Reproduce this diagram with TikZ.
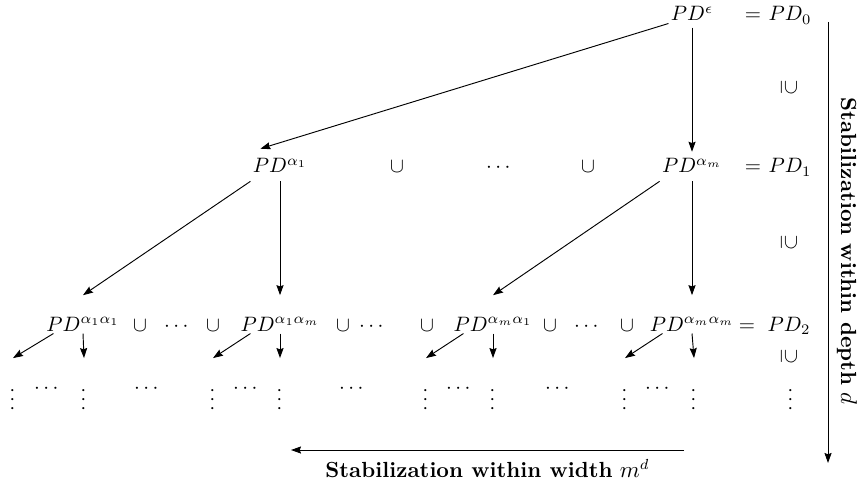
\documentclass[tikz,border=0pt]{standalone}
\usepackage{amsmath}
\usepackage{amssymb}
\usepackage{graphicx}
\usetikzlibrary{arrows.meta}

% upright row of dots, one piece
\newcommand{\vdt}{\rotatebox{90}{$\cdots$}}

\tikzset{
  pd/.style={inner sep=1pt, anchor=base},
  lvlone/.style={pd, text height=9pt, text depth=2.8pt},
  lvltwo/.style={pd, text height=16pt, text depth=0pt},
  arr/.style={-{Stealth[length=4.8pt, width=3.4pt, inset=0.6pt]}, line width=0.45pt},
  subset/.style={rotate=-90, inner sep=0pt},
  vdot/.style={inner sep=0pt, outer ysep=12.5pt},
  hdot/.style={inner sep=0pt, anchor=base},
  caption/.style={font=\fontsize{10.5pt}{12pt}\selectfont},
}

\begin{document}
\begin{tikzpicture}[x=0.48pt, y=-0.48pt]
    \useasboundingbox (0,0) rectangle (860,483);

    % Level 0
    \node[pd] (eps) at (692,21) {$PD^{\epsilon}$};
    \node[pd] (eq0) at (753,21) {$=$};
    \node[pd] (pd0) at (790,21) {$PD_0$};

    % Level 1
    \node[lvlone] (a1) at (280,173) {$PD^{\alpha_1}$};
    \node[pd] (cup1a) at (397,173) {$\cup$};
    \node[pd] (dots1) at (500,173) {$\cdots$};
    \node[pd] (cup1b) at (588,173) {$\cup$};
    \node[lvlone] (am) at (692,173) {$PD^{\alpha_m}$};
    \node[pd] (eq1) at (753,173) {$=$};
    \node[pd] (pd1) at (790,173) {$PD_1$};

    % Level 2
    \node[lvltwo] (a1a1) at (83,331) {$PD^{\alpha_1\alpha_1}$};
    \node[pd] (cup2a) at (140,331) {$\cup$};
    \node[pd] (dots2a) at (178,331) {$\cdots$};
    \node[pd] (cup2b) at (213,331) {$\cup$};
    \node[lvltwo] (a1am) at (280,331) {$PD^{\alpha_1\alpha_m}$};
    \node[pd] (cup2c) at (343,331) {$\cup$};
    \node[pd] (dots2b) at (373,331) {$\cdots$};
    \node[pd] (cup2d) at (427,331) {$\cup$};
    \node[lvltwo] (ama1) at (493,331) {$PD^{\alpha_m\alpha_1}$};
    \node[pd] (cup2e) at (550,331) {$\cup$};
    \node[pd] (dots2c) at (588,331) {$\cdots$};
    \node[pd] (cup2f) at (627,331) {$\cup$};
    \node[lvltwo] (amam) at (692,331) {$PD^{\alpha_m\alpha_m}$};
    \node[pd] (eq2) at (747,331) {$=$};
    \node[pd] (pd2) at (789,331) {$PD_2$};

    % Inclusions between the levels
    \node[subset] (inc0) at (789,88) {$\supseteq$};
    \node[subset] (inc1) at (789,243) {$\supseteq$};
    \node[subset] (inc2) at (789,357) {$\supseteq$};

    % Level 3, only dots
    \foreach \name/\x in {v1/13, v2/84, v3/213, v4/280, v5/426, v6/493, v7/625, v8/694, v9/791}
        \node[vdot] (\name) at (\x,398) {\vdt};
    \foreach \name/\x in {h1/48, h2/148, h3/247, h4/353, h5/460, h6/559, h7/659}
        \node[hdot] (\name) at (\x,393) {$\cdots$};

    % Level 0 to level 1
    \draw[arr, shorten >=5pt] (eps.south west) -- (a1.north west);
    \draw[arr, shorten <=2pt] (eps.south) -- (am.north);

    % Level 1 to level 2
    \draw[arr] (a1.south west) -- (a1a1.north);
    \draw[arr] (a1.south) -- (a1am.north);
    \draw[arr] (am.south west) -- (ama1.north);
    \draw[arr] (am.south) -- (amam.north);

    % Level 2 to level 3
    \draw[arr] (a1a1.213) -- (v1.north);
    \draw[arr] (a1a1.south) -- (v2.north);
    \draw[arr] (a1am.213) -- (v3.north);
    \draw[arr] (a1am.south) -- (v4.north);
    \draw[arr] (ama1.213) -- (v5.north);
    \draw[arr] (ama1.south) -- (v6.north);
    \draw[arr] (amam.213) -- (v7.north);
    \draw[arr] (amam.south) -- (v8.north);

    % Width arrow along the bottom
    \coordinate (wr) at (684,450);
    \coordinate (wl) at (291,450);
    \draw[arr] (wr) -- (wl)
        node[midway, below=1pt, caption] {\textbf{Stabilization within width} $m^d$};

    % Depth arrow on the right
    \coordinate (dt) at (828,22);
    \coordinate (db) at (828,463);
    \draw[arr] (dt) -- (db)
        node[pos=0.52, rotate=-90, anchor=south, inner sep=4pt, caption] {\textbf{Stabilization within depth} $d$};
\end{tikzpicture}
\end{document}
